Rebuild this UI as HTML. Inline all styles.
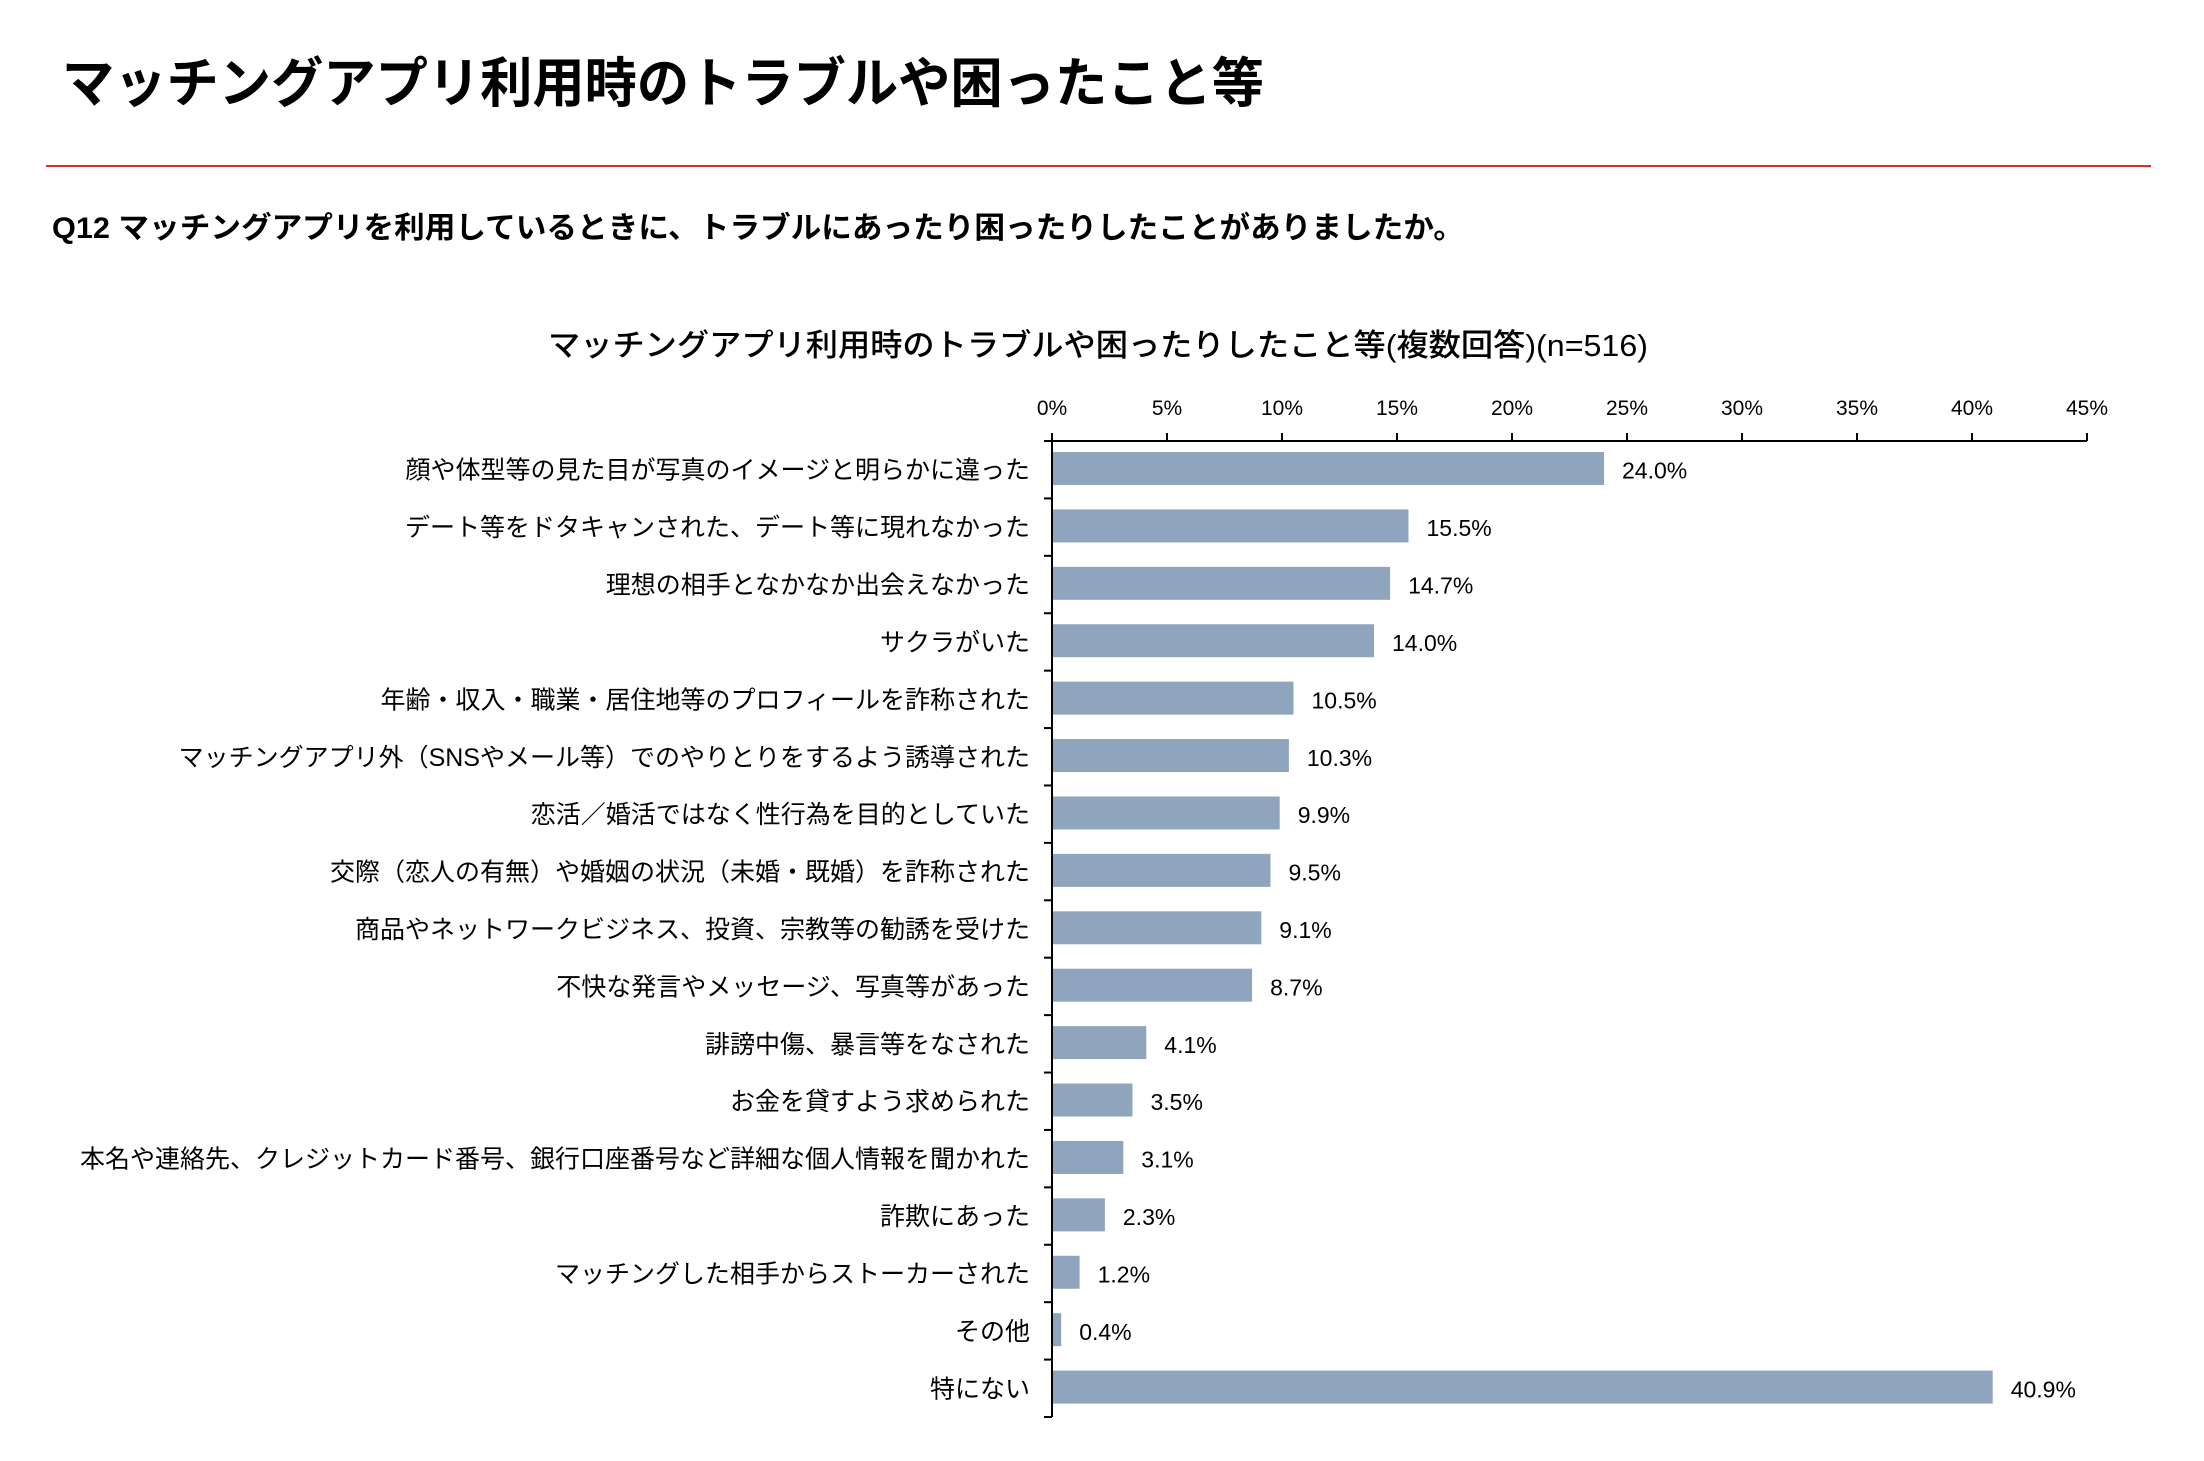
<!DOCTYPE html>
<html><head><meta charset="utf-8"><style>
html,body{margin:0;padding:0;background:#fff;}
svg text{font-family:"Liberation Sans","Noto Sans CJK JP",sans-serif;fill:#000;}
</style></head><body>
<svg id="c" width="2204" height="1456" viewBox="0 0 2204 1456" xmlns="http://www.w3.org/2000/svg">
<text x="62" y="102" font-size="54" font-weight="bold" textLength="1202" lengthAdjust="spacingAndGlyphs">マッチングアプリ利用時のトラブルや困ったこと等</text>
<line x1="46" y1="166" x2="2151" y2="166" stroke="#d0302a" stroke-width="2"/>
<text x="52" y="238" font-size="30" font-weight="bold" textLength="1412" lengthAdjust="spacingAndGlyphs">Q12 マッチングアプリを利用しているときに、トラブルにあったり困ったりしたことがありましたか。</text>
<text x="1098" y="356" font-size="31" font-weight="500" text-anchor="middle" textLength="1100" lengthAdjust="spacingAndGlyphs">マッチングアプリ利用時のトラブルや困ったりしたこと等(複数回答)(n=516)</text>
<g id="axes"></g>
<g id="bars"></g>
</svg>
<script>
const categories = ["顔や体型等の見た目が写真のイメージと明らかに違った","デート等をドタキャンされた、デート等に現れなかった","理想の相手となかなか出会えなかった","サクラがいた","年齢・収入・職業・居住地等のプロフィールを詐称された","マッチングアプリ外（SNSやメール等）でのやりとりをするよう誘導された","恋活／婚活ではなく性行為を目的としていた","交際（恋人の有無）や婚姻の状況（未婚・既婚）を詐称された","商品やネットワークビジネス、投資、宗教等の勧誘を受けた","不快な発言やメッセージ、写真等があった","誹謗中傷、暴言等をなされた","お金を貸すよう求められた","本名や連絡先、クレジットカード番号、銀行口座番号など詳細な個人情報を聞かれた","詐欺にあった","マッチングした相手からストーカーされた","その他","特にない"];
const values = [24.0,15.5,14.7,14.0,10.5,10.3,9.9,9.5,9.1,8.7,4.1,3.5,3.1,2.3,1.2,0.4,40.9];
const ticks = [0,5,10,15,20,25,30,35,40,45];
const NS="http://www.w3.org/2000/svg";
const X0=1052,X1=2087,Y0=441,Y1=1417;
const xs=v=>X0+(v-ticks[0])/(ticks[ticks.length-1]-ticks[0])*(X1-X0);
const slot=(Y1-Y0)/categories.length;
function mk(t,a,p){const e=document.createElementNS(NS,t);for(const k in a)e.setAttribute(k,a[k]);p.appendChild(e);return e;}
const ax=document.getElementById('axes'), bg=document.getElementById('bars');
let l=mk('line',{x1:X0-8,y1:Y0,x2:X1,y2:Y0,stroke:'#000','stroke-width':2},ax);


l=mk('line',{x1:X0,y1:Y0,x2:X0,y2:Y1,stroke:'#000','stroke-width':2},ax);


ticks.forEach(t=>{
  const x=xs(t);
  const tk=mk('line',{x1:x,y1:Y0-8,x2:x,y2:Y0,stroke:'#000','stroke-width':2},ax);
  
  
  const tx=mk('text',{x:x,y:Y0-26,'font-size':21,'text-anchor':'middle'},ax);
  tx.textContent=t+'%';
  
  
});
for(let i=0;i<=categories.length;i++){
  const y=Y0+i*slot;
  const tk=mk('line',{x1:X0-8,y1:y,x2:X0,y2:y,stroke:'#000','stroke-width':2},ax);
  
  
}
categories.forEach((c,i)=>{
  const top=Y0+i*slot, cy=top+slot/2;
  const r=mk('rect',{x:X0+1,y:top+11,width:xs(values[i])-X0-1,height:33,fill:'#8ea5bd'},bg);
  
  
  const lb=mk('text',{x:1030,y:cy+9,'font-size':25,'text-anchor':'end'},bg);
  lb.textContent=c;
  
  
  const vl=mk('text',{x:xs(values[i])+18,y:cy+9,'font-size':23},bg);
  vl.textContent=values[i].toFixed(1)+'%';
  
  
});
</script>
</body></html>
